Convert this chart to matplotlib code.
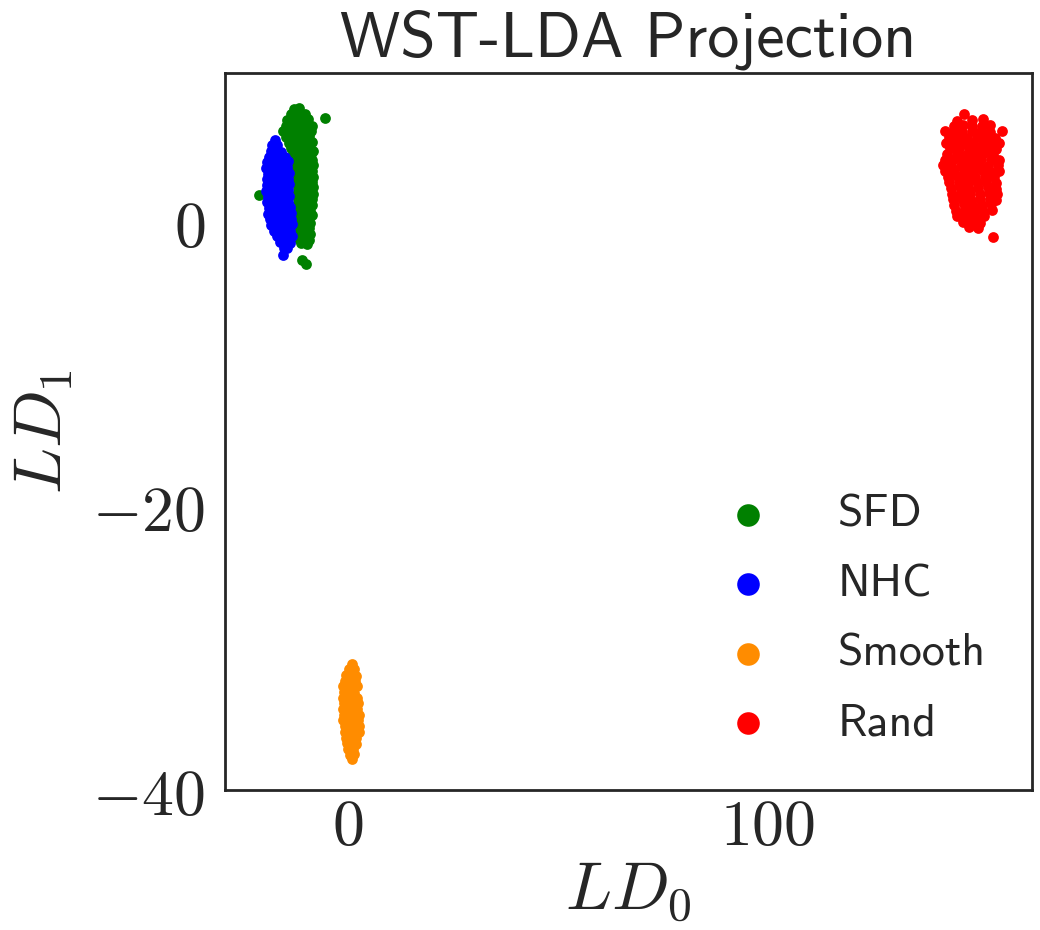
import matplotlib
matplotlib.use("Agg")
from matplotlib import pyplot as plt

# LDA projections of the WST coefficients, one list of (LD0, LD1) per class
sfd_pts = [
    (-12.8, 8.0), (-11.6, 8.05),
    (-13.6, 7.6), (-12.3, 7.65), (-11.0, 7.55), (-10.2, 7.6),
    (-14.4, 7.2), (-13.1, 7.25), (-11.8, 7.15), (-10.5, 7.2), (-9.4, 7.25),
    (-14.8, 6.8), (-13.4, 6.85), (-12.0, 6.75), (-10.8, 6.8), (-9.6, 6.85), (-8.6, 6.8),
    (-15.3, 6.4), (-14.0, 6.45), (-12.6, 6.35), (-11.2, 6.4), (-9.9, 6.45), (-8.7, 6.4),
    (-14.6, 6.0), (-13.2, 6.05), (-11.7, 5.95), (-10.3, 6.0), (-9.1, 6.05),
    (-14.0, 5.6), (-12.5, 5.65), (-11.0, 5.55), (-9.6, 5.6), (-8.4, 5.65),
    (-13.4, 5.2), (-12.1, 5.25), (-10.6, 5.15), (-9.3, 5.2), (-8.2, 5.0),
    (-13.0, 4.8), (-11.5, 4.85), (-10.1, 4.75), (-8.7, 4.8),
    (-12.6, 4.4), (-11.2, 4.45), (-9.8, 4.35), (-8.5, 4.4),
    (-12.3, 4.0), (-10.9, 4.05), (-9.5, 3.95), (-8.3, 4.0),
    (-12.5, 3.6), (-11.0, 3.65), (-9.7, 3.55), (-8.6, 3.6),
    (-12.2, 3.2), (-10.7, 3.25), (-9.3, 3.15), (-8.2, 3.2),
    (-12.0, 2.8), (-10.6, 2.85), (-9.4, 2.75), (-8.4, 2.8),
    (-11.9, 2.4), (-10.4, 2.45), (-9.1, 2.35), (-8.3, 2.5),
    (-12.1, 2.0), (-10.8, 2.05), (-9.5, 1.95), (-8.3, 2.0),
    (-11.8, 1.6), (-10.5, 1.65), (-9.2, 1.55), (-8.4, 1.6),
    (-12.0, 1.2), (-10.7, 1.25), (-9.4, 1.15), (-8.5, 1.2),
    (-11.7, 0.8), (-10.3, 0.85), (-9.0, 0.75),
    (-11.9, 0.4), (-10.6, 0.45), (-9.3, 0.35), (-8.6, 0.5),
    (-11.6, 0.0), (-10.2, 0.05), (-8.9, -0.05),
    (-11.8, -0.4), (-10.5, -0.35), (-9.2, -0.45),
    (-11.4, -0.8), (-10.0, -0.75), (-8.9, -0.85),
    (-11.5, -1.2), (-10.2, -1.15), (-9.3, -1.25),
    (-11.0, -1.5), (-9.8, -1.55),
    (-10.9, -2.7), (-10.0, -2.95),
    (-5.5, 7.3), (-21.2, 1.9),
]

nhc_pts = [
    (-17.4, 5.8),
    (-18.0, 5.4), (-16.8, 5.45),
    (-18.3, 5.0), (-17.0, 5.05), (-15.9, 4.95),
    (-18.8, 4.6), (-17.5, 4.65), (-16.2, 4.55), (-15.0, 4.6),
    (-19.2, 4.2), (-17.9, 4.25), (-16.6, 4.15), (-15.3, 4.2), (-14.2, 4.3),
    (-19.4, 3.8), (-18.1, 3.85), (-16.8, 3.75), (-15.5, 3.8), (-14.4, 3.85),
    (-19.0, 3.4), (-17.7, 3.45), (-16.4, 3.35), (-15.1, 3.4), (-14.0, 3.45),
    (-19.3, 3.0), (-18.0, 3.05), (-16.7, 2.95), (-15.4, 3.0), (-14.2, 3.05),
    (-19.1, 2.6), (-17.8, 2.65), (-16.5, 2.55), (-15.2, 2.6), (-14.0, 2.65),
    (-19.4, 2.2), (-18.1, 2.25), (-16.8, 2.15), (-15.5, 2.2), (-14.3, 2.25),
    (-19.0, 1.8), (-17.7, 1.85), (-16.4, 1.75), (-15.1, 1.8), (-13.9, 1.85),
    (-19.2, 1.4), (-17.9, 1.45), (-16.6, 1.35), (-15.3, 1.4), (-14.1, 1.45),
    (-18.8, 1.0), (-17.5, 1.05), (-16.2, 0.95), (-14.9, 1.0), (-13.7, 1.05),
    (-18.9, 0.6), (-17.6, 0.65), (-16.3, 0.55), (-15.0, 0.6), (-13.6, 0.65),
    (-18.5, 0.2), (-17.2, 0.25), (-15.9, 0.15), (-14.6, 0.2), (-13.4, 0.25),
    (-18.2, -0.2), (-16.9, -0.15), (-15.6, -0.25), (-14.3, -0.2), (-13.3, -0.15),
    (-17.6, -0.6), (-16.4, -0.55), (-15.1, -0.65), (-13.8, -0.6),
    (-16.8, -1.0), (-15.6, -0.95), (-14.4, -1.05), (-13.3, -1.0),
    (-16.0, -1.4), (-14.9, -1.35), (-13.8, -1.45),
    (-15.2, -1.8), (-14.4, -1.85),
    (-15.5, -2.3),
]

smooth_pts = [
    (1.0, -31.1),
    (0.2, -31.5), (1.6, -31.5),
    (-0.4, -31.9), (0.8, -31.85), (2.0, -31.95),
    (-0.7, -32.3), (0.5, -32.25), (1.7, -32.35),
    (-1.0, -32.7), (0.2, -32.65), (1.4, -32.75), (2.3, -32.7),
    (-0.8, -33.1), (0.4, -33.05), (1.6, -33.15),
    (-1.2, -33.5), (0.0, -33.45), (1.2, -33.55), (2.3, -33.5),
    (-0.9, -33.9), (0.3, -33.85), (1.5, -33.95), (2.4, -33.9),
    (-1.1, -34.3), (0.1, -34.25), (1.3, -34.35), (2.2, -34.3),
    (-0.8, -34.7), (0.4, -34.65), (1.6, -34.75), (2.6, -34.7),
    (-1.0, -35.1), (0.2, -35.05), (1.4, -35.15), (2.5, -35.1),
    (-0.6, -35.5), (0.6, -35.45), (1.8, -35.55), (2.7, -35.5),
    (-0.7, -35.9), (0.5, -35.85), (1.7, -35.95), (2.8, -35.9),
    (-0.4, -36.3), (0.8, -36.25), (2.0, -36.35),
    (-0.2, -36.7), (1.0, -36.65), (2.1, -36.75),
    (0.1, -37.1), (1.2, -37.1),
    (0.6, -37.5), (1.4, -37.45),
    (1.0, -37.8),
]

rand_pts = [
    (146.9, 7.6),
    (148.8, 7.2), (151.2, 7.25), (145.0, 7.1),
    (144.5, 6.8), (146.6, 6.85), (148.8, 6.75), (151.0, 6.8), (153.0, 6.85),
    (142.3, 6.4), (144.3, 6.45), (146.4, 6.35), (148.6, 6.4), (150.8, 6.45), (153.0, 6.35), (155.9, 6.4),
    (143.2, 6.0), (145.4, 6.05), (147.6, 5.95), (149.8, 6.0), (152.0, 6.05), (154.2, 5.95),
    (142.4, 5.6), (144.6, 5.65), (146.8, 5.55), (149.0, 5.6), (151.2, 5.65), (153.4, 5.55), (155.0, 5.6),
    (143.5, 5.2), (145.7, 5.25), (147.9, 5.15), (150.1, 5.2), (152.3, 5.25), (154.3, 5.15),
    (142.8, 4.8), (145.0, 4.85), (147.2, 4.75), (149.4, 4.8), (151.6, 4.85), (153.8, 4.75),
    (142.2, 4.4), (144.3, 4.45), (146.5, 4.35), (148.7, 4.4), (150.9, 4.45), (153.1, 4.35), (155.0, 4.4),
    (141.7, 4.0), (143.8, 4.05), (146.0, 3.95), (148.2, 4.0), (150.4, 4.05), (152.6, 3.95), (154.8, 4.0),
    (142.3, 3.6), (144.5, 3.65), (146.7, 3.55), (148.9, 3.6), (151.1, 3.65), (153.3, 3.55), (155.2, 3.6),
    (142.9, 3.2), (145.1, 3.25), (147.3, 3.15), (149.5, 3.2), (151.7, 3.25), (153.9, 3.15),
    (143.3, 2.8), (145.5, 2.85), (147.7, 2.75), (149.9, 2.8), (152.1, 2.85), (154.3, 2.75),
    (143.6, 2.4), (145.8, 2.45), (148.0, 2.35), (150.2, 2.4), (152.4, 2.45), (154.4, 2.35),
    (143.9, 2.0), (146.1, 2.05), (148.3, 1.95), (150.5, 2.0), (152.7, 2.05), (154.6, 1.95),
    (144.1, 1.6), (146.3, 1.65), (148.5, 1.55), (150.7, 1.6), (152.9, 1.65), (154.5, 1.55),
    (144.5, 1.2), (146.7, 1.25), (148.9, 1.15), (151.1, 1.2), (153.2, 1.25),
    (144.8, 0.8), (147.0, 0.85), (149.2, 0.75), (151.4, 0.8), (153.4, 0.85),
    (145.0, 0.4), (147.3, 0.45), (149.5, 0.35), (151.6, 0.4),
    (146.5, 0.0), (148.6, 0.05), (150.7, -0.05),
    (148.0, -0.35), (150.0, -0.4),
    (153.6, -1.06),
]

class_names = ['SFD', 'NHC', 'Smooth', 'Rand']
class_colors = ['green', 'blue', 'darkorange', 'red']

xticks = [0, 100]
xtick_labels = [r'$0$', r'$100$']
yticks = [0, -20, -40]
ytick_labels = [r'$0$', r'$-20$', r'$-40$']

plt.rcParams['mathtext.fontset'] = 'cm'
ink = '#262626'

fig = plt.figure(figsize=(10.4, 9.3), dpi=100)
ax = fig.add_axes([0.216, 0.1505, 0.776, 0.771])

for pts, name, col in zip([sfd_pts, nhc_pts, smooth_pts, rand_pts], class_names, class_colors):
    xs = [p[0] for p in pts]
    ys = [p[1] for p in pts]
    ax.scatter(xs, ys, s=60, c=col, label=name, linewidths=0)

ax.set_xlim(-29.3, 162.9)
ax.set_ylim(-40, 10.5)
ax.set_xticks(xticks)
ax.set_xticklabels(xtick_labels)
ax.set_yticks(yticks)
ax.set_yticklabels(ytick_labels)
ax.tick_params(length=0, labelsize=46, colors=ink)
ax.tick_params(axis='x', pad=4)
ax.tick_params(axis='y', pad=14)

for sp in ax.spines.values():
    sp.set_color(ink)
    sp.set_linewidth(2.0)

ax.set_xlabel(r'$LD_0$', fontsize=49, color=ink, labelpad=0)
ax.set_ylabel(r'$LD_1$', fontsize=49, color=ink, labelpad=12)
ax.set_title('WST-LDA Projection', fontname='cmss10', fontsize=46, color=ink, pad=12)

leg = ax.legend(loc='lower right', frameon=False, markerscale=2.1,
                prop={'family': 'cmss10', 'size': 33},
                handletextpad=0.95, labelspacing=0.62, borderaxespad=0.6)
for t in leg.get_texts():
    t.set_color(ink)

fig.savefig('out.png', dpi=100)
